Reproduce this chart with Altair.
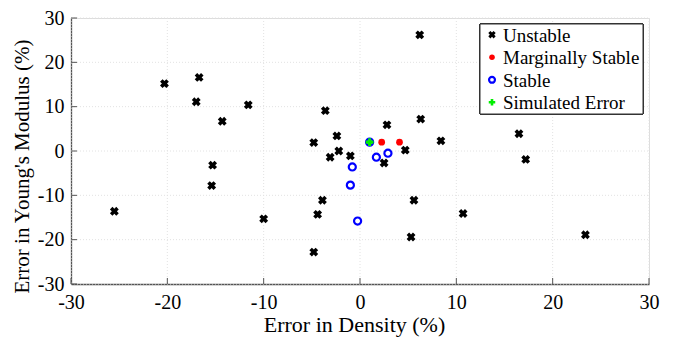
import altair as alt
import pandas as pd

unstable_x = [-20.3, -16.7, -17.0, -14.3, -11.6, -15.3, -15.4, -25.5, -10.0, -4.8,
              -3.6, -2.4, -2.2, -3.1, -1.0, -3.9, -4.4, -4.8,
              6.2, 6.3, 2.8, 8.4, 4.7, 2.5, 16.5, 17.2, 5.6, 10.7, 5.3, 23.4]
unstable_y = [15.2, 16.6, 11.1, 6.7, 10.4, -3.2, -7.8, -13.6, -15.3, 1.9,
              9.1, 3.4, 0.0, -1.4, -1.1, -11.1, -14.3, -22.8,
              26.2, 7.2, 5.9, 2.3, 0.2, -2.7, 3.9, -1.9, -11.1, -14.1, -19.4, -18.9]
marginal_x = [2.25, 4.1]
marginal_y = [2.0, 2.0]
stable_x = [1.0, -0.8, -1.0, -0.25, 1.7, 2.9]
stable_y = [2.0, -3.6, -7.7, -15.8, -1.4, -0.5]
sim_x = [1.0]
sim_y = [2.0]

categories = ["Unstable", "Marginally Stable", "Stable", "Simulated Error"]
tick_values = [-30, -20, -10, 0, 10, 20, 30]

W, H = 578, 266
FONT = "Liberation Serif, Times New Roman, serif"
LABEL_EXPR = "'' + datum.value"

xs = alt.Scale(domain=[-30, 30], nice=False)
ys = alt.Scale(domain=[-30, 30], nice=False)
ticks = pd.DataFrame({"v": tick_values})

grid_x = alt.Chart(ticks).mark_rule(color="#e2e2e2", strokeDash=[1, 2], strokeWidth=1).encode(
    x=alt.X("v:Q", scale=xs, axis=alt.Axis(
        title="Error in Density (%)", values=tick_values, grid=False, ticks=False,
        labelFlush=False, labelExpr=LABEL_EXPR,
        domainColor="#555", domainWidth=1.3, labelFont=FONT, labelFontSize=20,
        labelColor="black", labelPadding=8, titleFont=FONT, titleFontSize=22,
        titleFontWeight="normal", titleColor="black", titlePadding=2, titleX=283)),
    y=alt.value(0), y2=alt.value(H))
grid_y = alt.Chart(ticks).mark_rule(color="#e2e2e2", strokeDash=[1, 2], strokeWidth=1).encode(
    y=alt.Y("v:Q", scale=ys, axis=alt.Axis(
        title="Error in Young's Modulus (%)", values=tick_values, grid=False, ticks=False,
        labelFlush=False, labelExpr=LABEL_EXPR,
        domainColor="#555", domainWidth=1.3, labelFont=FONT, labelFontSize=20,
        labelColor="black", labelPadding=7, titleFont=FONT, titleFontSize=21,
        titleFontWeight="normal", titleColor="black", titlePadding=5, titleY=148)),
    x=alt.value(0), x2=alt.value(W))
tick_x = alt.Chart(ticks).mark_rule(color="#555", strokeWidth=1).encode(
    x=alt.X("v:Q", scale=xs), y=alt.value(H), y2=alt.value(H - 6))
tick_y = alt.Chart(ticks).mark_rule(color="#555", strokeWidth=1).encode(
    y=alt.Y("v:Q", scale=ys, axis=None), x=alt.value(0), x2=alt.value(6))


def pts(xv, yv, **mk):
    d = pd.DataFrame({"x": xv, "y": yv})
    return alt.Chart(d).mark_point(opacity=1, **mk).encode(
        x=alt.X("x:Q", scale=xs),
        y=alt.Y("y:Q", scale=ys, axis=None))


styles = [
    dict(shape="cross", angle=45, filled=True, color="black", size=80),
    dict(shape="circle", filled=True, color="#ff0000", size=45),
    dict(shape="circle", filled=False, color="#0000ff", size=50, strokeWidth=2.2),
    dict(shape="cross", filled=True, color="#00ee00", size=60),
]
p_unstable = pts(unstable_x, unstable_y, **styles[0])
p_marginal = pts(marginal_x, marginal_y, **styles[1])
p_stable = pts(stable_x, stable_y, **styles[2])
p_sim = pts(sim_x, sim_y, **styles[3])

# legend box
leg_box = alt.Chart(ticks).mark_rect(fill="white", stroke="#333", strokeWidth=1).encode(
    x=alt.value(409), x2=alt.value(572), y=alt.value(6), y2=alt.value(96))
leg_scale = alt.Scale(domain=[0, 3], range=[16.7, 84.3])
leg_layers = []
for i, (cat, st) in enumerate(zip(categories, styles)):
    st2 = dict(st)
    st2["size"] = int(st["size"] * 0.7)
    ld = pd.DataFrame({"row": [i], "label": [cat]})
    leg_layers.append(alt.Chart(ld).mark_point(opacity=1, **st2).encode(
        x=alt.value(421), y=alt.Y("row:Q", scale=leg_scale, axis=None)))
    leg_layers.append(alt.Chart(ld).mark_text(
        align="left", baseline="middle", font=FONT, fontSize=19, color="black", dy=1).encode(
        x=alt.value(432), y=alt.Y("row:Q", scale=leg_scale, axis=None), text="label:N"))

chart = alt.layer(grid_x, grid_y, tick_x, tick_y, p_unstable, p_marginal, p_stable, p_sim,
                  leg_box, *leg_layers).resolve_scale(y="independent").properties(
    width=W, height=H,
    autosize=alt.AutoSizeParams(type="none"),
    padding={"left": 71, "top": 18, "right": 27, "bottom": 55},
).configure_view(stroke=None).configure(background="white")

chart.save("out.html", embed_options={"renderer": "svg", "actions": False})
